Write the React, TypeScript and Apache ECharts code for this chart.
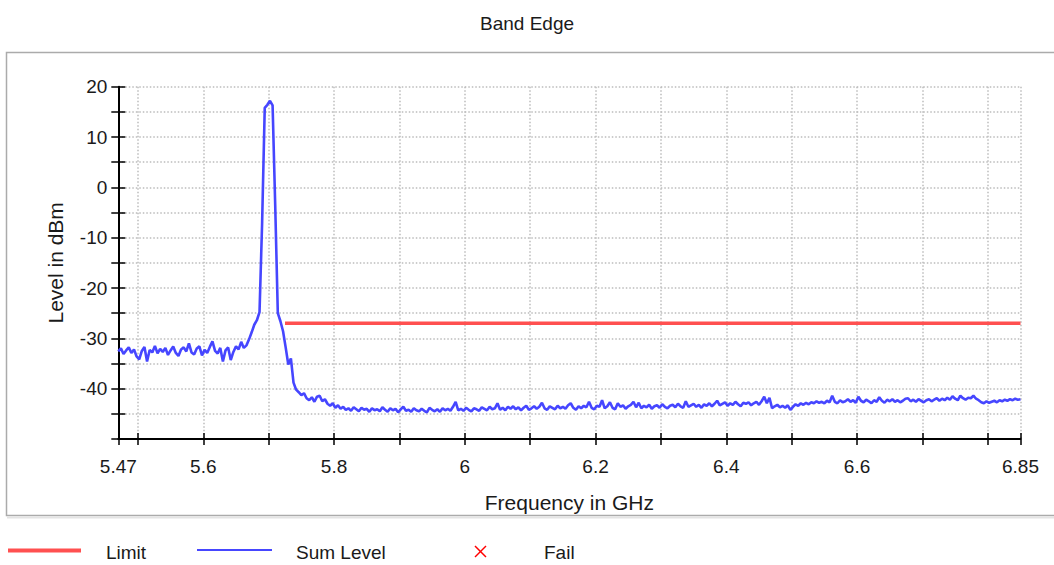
import React, { useEffect, useRef } from 'react';
import * as echarts from 'echarts';

// Sweep grid of the analyser trace (GHz)
const FREQ_START = 5.47;
const FREQ_STEP = 0.004;

// "Sum Level" trace, dBm, one value per sweep point
const SUM_LEVEL = [
  -32.6, -32.0, -33.1, -32.4, -31.8, -32.9, -32.2, -33.6, -34.2, -32.5,
  -31.7, -34.6, -32.3, -32.8, -31.5, -33.0, -32.1, -32.7, -31.9, -33.3,
  -32.4, -31.6, -32.9, -33.5, -32.2, -31.8, -32.6, -31.0, -32.8, -33.2,
  -32.0, -31.6, -33.4, -32.3, -32.9, -31.7, -30.6, -32.5, -33.0, -31.9,
  -34.6, -32.4, -31.8, -34.3, -32.7, -31.6, -32.2, -30.7, -31.9, -31.4,
  -30.2, -28.8, -27.3, -26.4, -24.8, -7.0, 15.8, 16.4, 17.2, 16.3,
  -3.5, -25.0, -26.6, -28.6, -31.8, -35.2, -34.0, -38.8, -40.2, -40.7,
  -41.3, -40.9, -41.9, -42.3, -41.7, -42.6, -41.6, -41.4, -42.5, -42.1,
  -43.0, -43.4, -42.9, -43.8, -43.3, -44.0, -43.6, -44.2, -43.9, -44.4,
  -43.7, -44.1, -44.5, -43.8, -44.2, -44.0, -44.6, -43.9, -44.3, -44.1,
  -44.5, -43.7, -44.2, -44.6, -43.9, -44.3, -44.0, -44.7, -44.1, -43.6,
  -44.4, -44.2, -44.6, -43.9, -44.3, -44.5, -44.0, -44.4, -44.7, -43.8,
  -44.2, -44.5, -44.1, -44.6, -43.9, -44.3, -44.0, -44.4, -43.6, -42.6,
  -44.3, -44.0, -44.4, -43.8, -44.2, -44.5, -43.9, -44.1, -44.4, -43.7,
  -44.0, -44.3, -43.6, -44.1, -43.9, -42.9, -44.2, -43.8, -44.3, -43.6,
  -44.0, -43.5, -44.1, -43.7, -44.3, -43.8, -43.4, -44.2, -43.9, -43.5,
  -44.0, -43.6, -42.8, -43.9, -44.2, -43.5, -43.8, -44.1, -43.4, -43.9,
  -43.6, -44.0, -43.3, -42.9, -43.8, -44.2, -43.5, -43.9, -43.4, -43.7,
  -42.6, -43.8, -44.1, -43.4, -43.6, -42.3, -43.9, -43.5, -42.7, -43.8,
  -44.1, -42.9, -43.6, -43.3, -44.0, -43.5, -43.2, -42.6, -43.7, -42.8,
  -43.9, -43.4, -43.7, -43.2, -44.0, -43.5, -43.3, -43.8, -43.1, -43.6,
  -43.9, -43.4, -43.2, -43.7, -43.0, -43.5, -43.8, -42.5, -43.6, -43.3,
  -43.0, -43.6, -43.2, -43.8, -43.1, -43.4, -42.9, -43.5, -43.0, -42.4,
  -43.3, -43.0, -42.7, -43.4, -42.9, -43.2, -42.6, -43.1, -43.5, -42.8,
  -43.0, -42.7, -43.3, -42.9, -42.6, -43.2, -42.5, -41.6, -42.9, -41.8,
  -43.9, -43.5, -43.2, -43.7, -43.4, -43.8, -43.3, -44.2, -43.6, -43.1,
  -43.4, -42.9, -43.2, -42.8, -43.1, -42.7, -42.9, -42.5, -42.8, -42.6,
  -42.9, -42.4, -42.7, -41.4, -42.6, -42.9, -42.3, -42.7, -42.5, -42.1,
  -42.6, -42.3, -42.8, -41.6, -42.4, -42.7, -42.2, -42.5, -42.9, -42.3,
  -42.6, -41.7, -42.4, -42.8, -42.2, -42.5, -42.1, -42.6, -42.3, -42.7,
  -42.4, -42.0, -41.9, -42.5, -42.2, -42.6, -42.1, -42.4, -42.7, -42.3,
  -42.1, -42.5, -42.2, -41.9, -42.4, -42.0, -42.3, -41.8, -42.2, -41.5,
  -42.0, -42.3, -41.4, -41.9, -42.2, -41.8, -41.9, -41.4, -42.0, -42.3,
  -42.7, -42.9, -42.5, -42.8, -42.6, -42.4, -42.7, -42.3, -42.5, -42.2,
  -42.4, -42.1, -42.3, -42.0, -42.2, -42.1,
];

// Limit line (GHz, dBm)
const LIMIT_FREQ = [5.725, 6.85];
const LIMIT_LEVEL = [-27, -27];

// Labelled ticks
const X_LABELS = [5.47, 5.6, 5.8, 6, 6.2, 6.4, 6.6, 6.85];
const Y_LABELS = [20, 10, 0, -10, -20, -30, -40];

const FONT = "'Liberation Sans', Arial, sans-serif";
const TEXT_COLOR = '#1a1a1a';

export default function App() {
  const ref = useRef<HTMLDivElement>(null);

  useEffect(() => {
    if (!ref.current) return;
    const chart = echarts.init(ref.current, undefined, { renderer: 'svg' });

    const sumData = SUM_LEVEL.map((v, i) => [
      Math.round((FREQ_START + i * FREQ_STEP) * 1000) / 1000,
      v,
    ]);
    const limitData = LIMIT_FREQ.map((f, i) => [f, LIMIT_LEVEL[i]]);

    const gridLine = {
      show: true,
      lineStyle: { color: '#bcbcbc', width: 1.5, type: [1.5, 2] },
    };
    const tickStyle = { color: '#000', width: 1.5 };

    chart.setOption({
      animation: false,
      backgroundColor: '#ffffff',
      textStyle: { fontFamily: FONT },
      title: {
        text: 'Band Edge',
        left: 'center',
        top: 9,
        textStyle: { fontSize: 19, fontWeight: 'normal', color: TEXT_COLOR, fontFamily: FONT },
      },
      grid: { left: 118.3, top: 86.7, right: 33.5, bottom: 126, containLabel: false },
      xAxis: [
        {
          type: 'value',
          min: 5.47,
          max: 6.85,
          splitNumber: 14,
          position: 'bottom',
          name: 'Frequency in GHz',
          nameLocation: 'middle',
          nameGap: 53,
          nameTextStyle: { fontSize: 21, color: TEXT_COLOR, fontFamily: FONT },
          axisLine: { show: true, onZero: false, lineStyle: { color: '#000', width: 2 } },
          axisTick: { show: true, inside: false, length: 6, lineStyle: tickStyle },
          axisLabel: {
            show: true,
            margin: 18,
            fontSize: 19,
            color: TEXT_COLOR,
            fontFamily: FONT,
            showMinLabel: true,
            showMaxLabel: true,
            formatter: (v: number) =>
              X_LABELS.some((l) => Math.abs(l - v) < 1e-6) ? String(v) : '',
          },
          splitLine: gridLine,
        },
        {
          type: 'value',
          min: 5.47,
          max: 6.85,
          splitNumber: 14,
          position: 'bottom',
          axisLine: { show: false, onZero: false },
          axisTick: { show: true, inside: true, length: 6, lineStyle: tickStyle },
          axisLabel: { show: false },
          splitLine: { show: false },
        },
      ],
      yAxis: [
        {
          type: 'value',
          min: -50,
          max: 20,
          interval: 5,
          position: 'left',
          name: 'Level in dBm',
          nameLocation: 'middle',
          nameGap: 52,
          nameTextStyle: { fontSize: 21, color: TEXT_COLOR, fontFamily: FONT },
          axisLine: { show: true, onZero: false, lineStyle: { color: '#000', width: 2 } },
          axisTick: { show: true, inside: false, length: 7, lineStyle: tickStyle },
          axisLabel: {
            show: true,
            margin: 11,
            fontSize: 19,
            color: TEXT_COLOR,
            fontFamily: FONT,
            formatter: (v: number) => (Y_LABELS.indexOf(v) >= 0 ? String(v) : ''),
          },
          splitLine: gridLine,
        },
        {
          type: 'value',
          min: -50,
          max: 20,
          interval: 5,
          position: 'left',
          axisLine: { show: false, onZero: false },
          axisTick: { show: true, inside: true, length: 7, lineStyle: tickStyle },
          axisLabel: { show: false },
          splitLine: { show: false },
        },
      ],
      series: [
        {
          name: 'Limit',
          type: 'line',
          data: limitData,
          symbol: 'none',
          lineStyle: { color: '#ff5050', width: 3.5 },
          itemStyle: { color: '#ff5050' },
          silent: true,
          z: 3,
        },
        {
          name: 'Sum Level',
          type: 'line',
          data: sumData,
          symbol: 'none',
          lineStyle: { color: '#4646ff', width: 2.6 },
          itemStyle: { color: '#4646ff' },
          silent: true,
          z: 4,
        },
      ],
      graphic: [
        {
          type: 'rect',
          shape: { x: 6.5, y: 52.5, width: 1100, height: 463 },
          style: { fill: 'none', stroke: '#ababab', lineWidth: 1.5 },
          z: 0,
          silent: true,
        },
        {
          type: 'line',
          shape: { x1: 7, y1: 517.5, x2: 1054, y2: 517.5 },
          style: { stroke: '#e4e4e4', lineWidth: 2 },
          silent: true,
        },
        // legend
        {
          type: 'line',
          shape: { x1: 8, y1: 550.5, x2: 81, y2: 550.5 },
          style: { stroke: '#ff5050', lineWidth: 4 },
          silent: true,
        },
        {
          type: 'text',
          x: 106,
          y: 552,
          style: { text: 'Limit', fontSize: 19, fontFamily: FONT, fill: TEXT_COLOR, verticalAlign: 'middle' },
          silent: true,
        },
        {
          type: 'line',
          shape: { x1: 197, y1: 550, x2: 272, y2: 550 },
          style: { stroke: '#4646ff', lineWidth: 2 },
          silent: true,
        },
        {
          type: 'text',
          x: 296,
          y: 552,
          style: { text: 'Sum Level', fontSize: 19, fontFamily: FONT, fill: TEXT_COLOR, verticalAlign: 'middle' },
          silent: true,
        },
        {
          type: 'line',
          shape: { x1: 475, y1: 546, x2: 486, y2: 557 },
          style: { stroke: '#ff0000', lineWidth: 1.5 },
          silent: true,
        },
        {
          type: 'line',
          shape: { x1: 475, y1: 557, x2: 486, y2: 546 },
          style: { stroke: '#ff0000', lineWidth: 1.5 },
          silent: true,
        },
        {
          type: 'text',
          x: 544,
          y: 552,
          style: { text: 'Fail', fontSize: 19, fontFamily: FONT, fill: TEXT_COLOR, verticalAlign: 'middle' },
          silent: true,
        },
      ],
    });

    return () => {
      chart.dispose();
    };
  }, []);

  return (
    <div
      ref={ref}
      style={{ position: 'fixed', left: 0, top: 0, width: 1054, height: 565, background: '#fff' }}
    />
  );
}
